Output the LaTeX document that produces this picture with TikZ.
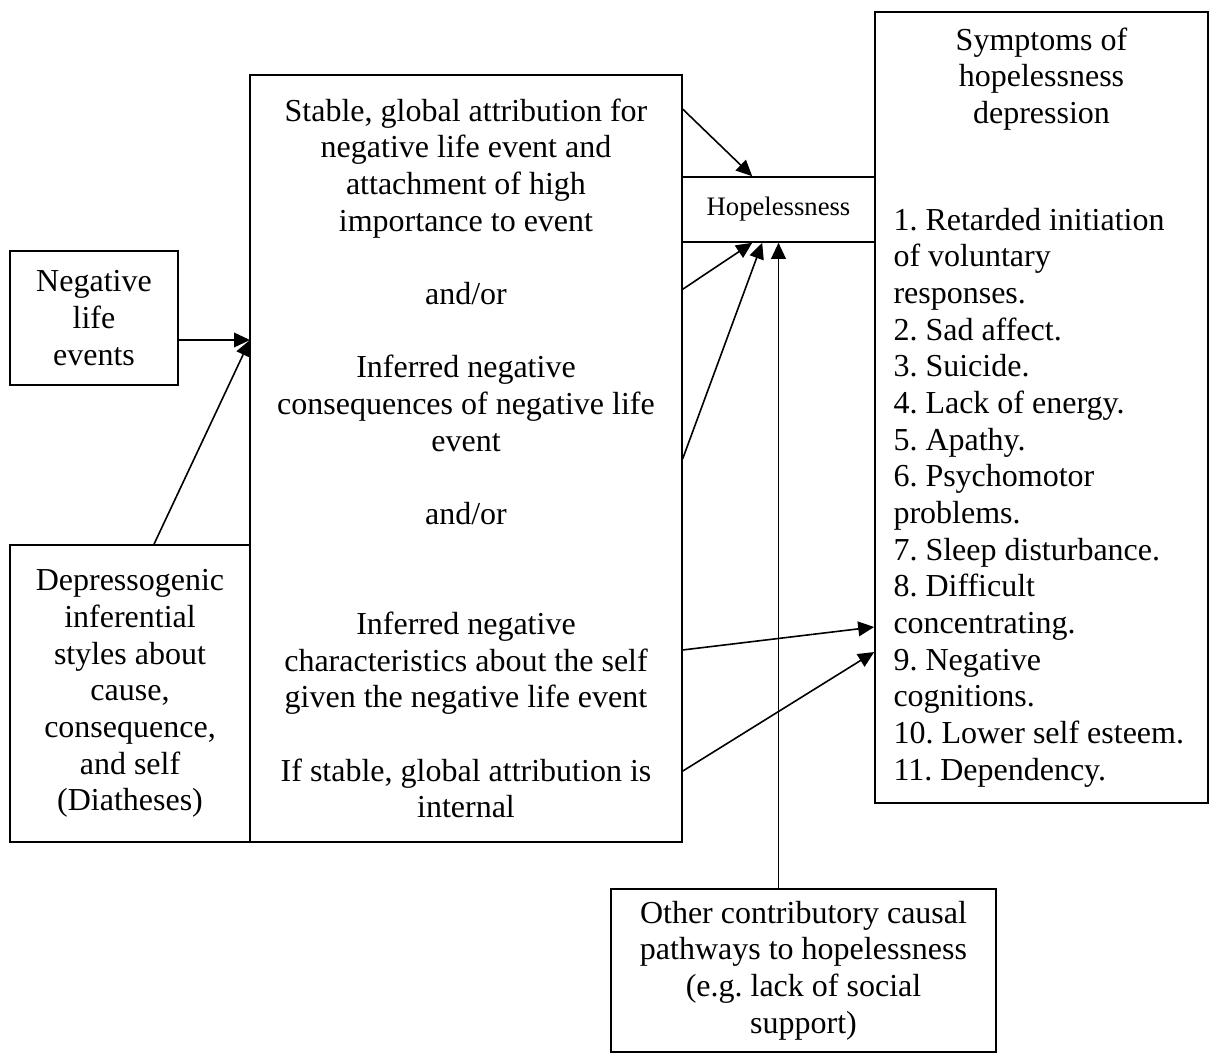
\documentclass[tikz,border=0pt]{standalone}
\usepackage{fontspec}
\setmainfont{Liberation Serif}
\usetikzlibrary{arrows.meta}

\tikzset{
  box/.style={draw, line width=1.2pt, inner sep=0pt, align=center},
  arr/.style={-{Triangle[length=12pt,width=11pt]}, line width=1.2pt}
}

\begin{document}
\frenchspacing
\begin{tikzpicture}[x=0.75pt, y=-0.75pt, font=\fontsize{24}{27.5}\selectfont]
\useasboundingbox (0,0) rectangle (1211,1055);

% Negative life events
\node[box, minimum width=126pt, minimum height=100.5pt] (neg) at (94,318) {Negative\\life\\events};

% Diatheses
\node[box, minimum width=180pt, minimum height=222.75pt] (dep) at (130,693.5)
  {Depressogenic\\inferential\\styles about\\cause,\\consequence,\\and self\\(Diatheses)};

% Attributions and inferences
\node[box, minimum width=324pt, minimum height=575.25pt] (mid) at (466,458.5)
  {Stable, global attribution for\\negative life event and\\attachment of high\\importance to event\\[27.5pt]
   and/or\\[27.5pt]
   Inferred negative\\consequences of negative life\\event\\[27.5pt]
   and/or\\[55pt]
   Inferred negative\\characteristics about the self\\given the negative life event\\[27.5pt]
   If stable, global attribution is\\internal};

% Hopelessness
\node[box, minimum width=144.75pt, minimum height=48.75pt, font=\fontsize{20}{24}\selectfont] (hope) at (778.5,209.5) {Hopelessness};

% Symptoms
\node[box, align=none, text width=222pt, minimum width=249.75pt, minimum height=593.25pt] (symp) at (1041.5,407.5)
  {\hyphenpenalty=10000 \raggedright
   {\centering Symptoms of\\hopelessness\\depression\par}
   \vspace{52.5pt}
   1. Retarded initiation\\of voluntary\\responses.\\2. Sad affect.\\3. Suicide.\\4. Lack of energy.\\5. Apathy.\\
   6. Psychomotor\\problems.\\7. Sleep disturbance.\\8. Difficult\\concentrating.\\9. Negative\\cognitions.\\
   10. Lower self esteem.\\11. Dependency.\par};

% Other pathways
\node[box, minimum width=288.75pt, minimum height=122.25pt] (other) at (803.5,970.5)
  {Other contributory causal\\pathways to hopelessness\\(e.g. lack of social\\support)};

% Arrows into the attribution box
\coordinate (mA) at (250,340);
\draw[arr] (neg.east |- mA) -- (mA);
\draw[arr] ([xshift=18pt]dep.north) -- (mA);

% Arrows into hopelessness
\draw[arr] ([yshift=-26.25pt]mid.north east) -- ([xshift=53.25pt]hope.north west);
\draw[arr] ([yshift=-161.25pt]mid.north east) -- ([xshift=53.25pt]hope.south west);
\draw[arr] (mid.east) -- ([xshift=60.75pt]hope.south west);
\draw[arr] (other.north -| hope.south) -- (hope.south);

% Arrows into symptoms
\draw[arr] ([yshift=-143.6pt]mid.east) -- ([yshift=-164.6pt]symp.west);
\draw[arr] ([yshift=-234.4pt]mid.east) -- ([yshift=-183.4pt]symp.west);
\end{tikzpicture}
\end{document}
